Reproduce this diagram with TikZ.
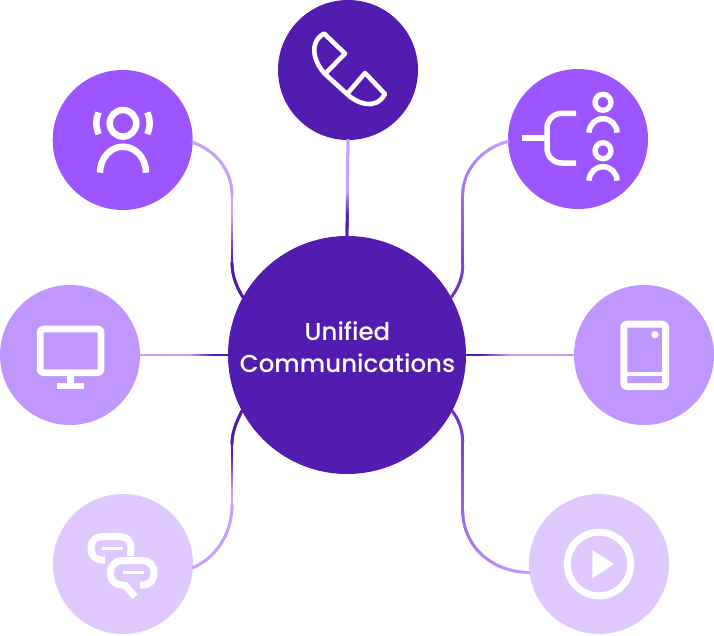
\documentclass[tikz,border=0pt]{standalone}
\usepackage{fontspec}
\setmainfont{Poppins Medium}
\usetikzlibrary{decorations.markings}
\definecolor{cdark}{HTML}{521CB0}
\definecolor{cmid}{HTML}{9C55FF}
\definecolor{clight}{HTML}{C097FF}
\definecolor{cpale}{HTML}{DFC9FF}
\definecolor{lineLight}{HTML}{C79FFF}
\definecolor{cend}{HTML}{6A30CC}
\tikzset{
  bubble/.style={circle,minimum size=140pt,inner sep=0pt,outer sep=0pt,fill=#1},
  icon/.style={draw=white,line width=#1,line join=round},
  gradline/.style n args={3}{decoration={markings,
    mark=between positions 0 and 1 step 1pt with {
      \pgfmathsetmacro\gradp{100*max(0,min(1,(\pgfkeysvalueof{/pgf/decoration/mark info/distance from start}/\pgfdecoratedpathlength-#1)/(#2-#1)))}
      \colorlet{gcur}{#3!\gradp!lineLight}
      \draw[gcur,line width=2.8pt] (-.9pt,0pt)--(.9pt,0pt);
    }},decorate}
}
\begin{document}
\begin{tikzpicture}[x=1pt,y=-1pt]
\useasboundingbox (0,0) rectangle (714,635);
\node[circle,minimum size=238pt,inner sep=0pt,outer sep=0pt,fill=cdark] (hub) at (347,355) {};
\node[text=white,align=center,inner sep=0pt,font=\fontsize{24.5}{32}\selectfont] (hublabel) at (347.5,347.5) {Unified\\Communications};
\node[bubble=cdark] (top) at (348,70) {};
\node[bubble=cmid] (tl) at (122.7,140) {};
\node[bubble=cmid] (tr) at (578,139) {};
\node[bubble=clight] (lf) at (70,355) {};
\node[bubble=clight] (rt) at (644,355) {};
\node[bubble=cpale] (bl) at (123,564) {};
\node[bubble=cpale] (br) at (599,564) {};
% connectors
\path[gradline={.54}{.78}{cdark}] (top.south) -- (hub.north);
\path[gradline={.57}{.83}{cdark}] (lf.east) -- (hub.west);
\path[gradline={.59}{.87}{cdark}] (rt.west) -- (hub.east);
\path[gradline={.53}{.78}{cdark}] (tl.-2) .. controls (215,150) and (232,170) .. (232,195) -- (232,262) .. controls (232,275) and (236,286) .. (hub.151);
\path[gradline={.53}{.75}{cdark}] (bl.-3) .. controls (215,558) and (232,535) .. (232,505) -- (232,445) .. controls (232,432) and (236,423) .. (hub.208);
\path[gradline={0}{1}{cend}] (tr.182) .. controls (482,148) and (462.7,170) .. (462.7,195) -- (462.7,265) .. controls (462.7,277) and (459,287) .. (hub.29);
\path[gradline={0}{1}{cend}] (br.187) .. controls (490,572) and (462.7,545) .. (462.7,510) -- (462.7,443) .. controls (462.7,430) and (459,420) .. (hub.-28);
% phone
\draw[icon=4.6pt] (324,33.5) -- (345,53.5) -- (325,74) .. controls (314,62) and (308,43) .. cycle;
\draw[icon=4.6pt] (325,74) -- (347,94) -- (365,73) -- (385,94) .. controls (375,112) and (355,102) .. (347,94);
% top-left person
\draw[icon=6.5pt] (123,123.3) circle[radius=13.3];
\draw[icon=6.5pt] (100,172.7) arc[start angle=180,end angle=360,x radius=23,y radius=26];
\draw[icon=6.5pt] ([shift={(156:26.7)}]123,123.3) arc[start angle=156,end angle=204,radius=26.7];
\draw[icon=6.5pt] ([shift={(-24:26.7)}]123,123.3) arc[start angle=-24,end angle=24,radius=26.7];
% top-right icon
\draw[icon=5.5pt] (522,138) -- (547,138);
\draw[icon=5.5pt] (576,113.3) -- (562,113.3) .. controls (553.5,113.3) and (547,120) .. (547,128) -- (547,148) .. controls (547,156.5) and (553.5,163) .. (562,163) -- (576,163);
\draw[icon=5.3pt] (603,102.3) circle[radius=8];
\draw[icon=5.5pt] (589,132.7) arc[start angle=180,end angle=360,radius=14];
\draw[icon=5.3pt] (603,150.7) circle[radius=8];
\draw[icon=5.5pt] (589,180.7) arc[start angle=180,end angle=360,radius=14];
% monitor
\draw[icon=6.7pt,rounded corners=3pt] (40.2,329) rectangle (101,372.7);
\draw[icon=6.7pt] (70.3,376) -- (70.3,386);
\draw[icon=6.7pt] (57,386) -- (84.3,386);
% tablet
\draw[icon=7pt,rounded corners=3pt] (623.8,324.2) rectangle (665.5,386.5);
\draw[icon=4pt] (623.8,374.3) -- (665.5,374.3);
\fill[white] (655,334.7) circle[radius=3.7];
% chat
\draw[icon=7pt] (105,560) -- (101.7,560) .. controls (95,560) and (91,555) .. (91,548.3) .. controls (91,541) and (95,536.7) .. (101.7,536.7) -- (120,536.7) .. controls (127,536.7) and (131,541) .. (131,548.3) -- (130.5,556);
\draw[icon=3.6pt] (102,548.3) -- (123,548.3);
\draw[icon=7pt] (140,585) -- (143.3,585) .. controls (150,585) and (154,580) .. (154,573) .. controls (154,566) and (150,560.7) .. (143.3,560.7) -- (121.7,560.7) .. controls (115,560.7) and (110.3,566) .. (110.3,572.5) .. controls (110.3,580) and (115,585) .. (121.7,585) -- (125,585) -- (135,596.7);
\draw[icon=3.6pt] (122.5,572.3) -- (143.5,572.3);
% play
\draw[icon=7pt] (599,564) circle[radius=31.8];
\fill[white] (592.3,550) -- (614,564) -- (592.3,578.3) -- cycle;
\end{tikzpicture}
\end{document}
